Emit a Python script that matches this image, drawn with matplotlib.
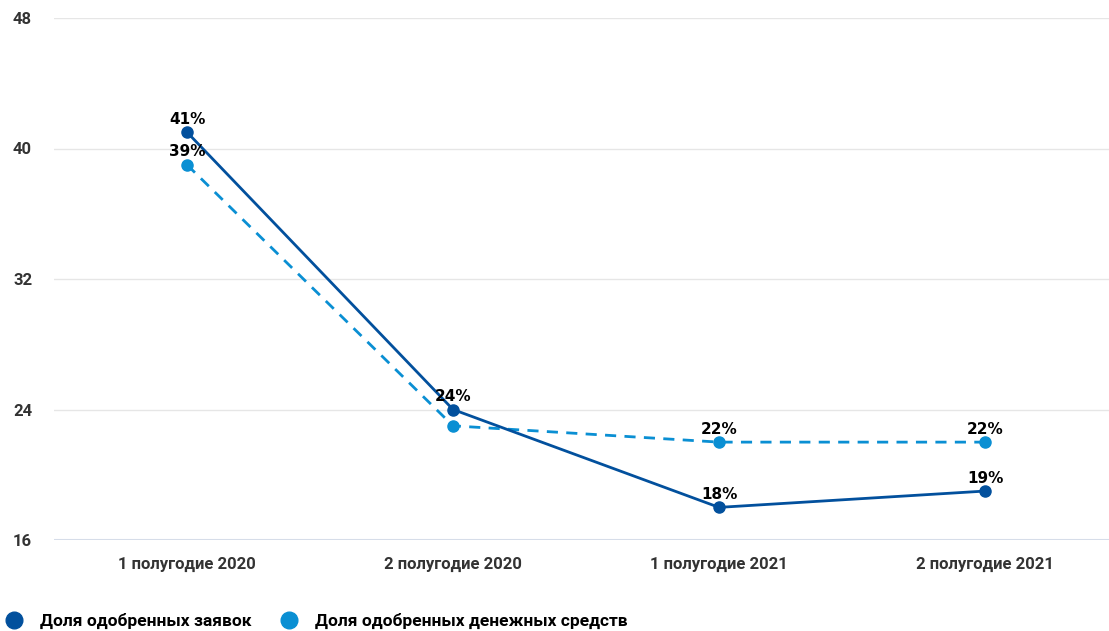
import numpy as np
import matplotlib.pyplot as plt
from matplotlib.lines import Line2D
from matplotlib.font_manager import FontProperties

# data
categories = ["1 полугодие 2020", "2 полугодие 2020", "1 полугодие 2021", "2 полугодие 2021"]
applications = [41, 24, 18, 19]   # Доля одобренных заявок
funds = [39, 23, 22, 22]          # Доля одобренных денежных средств
funds_shown = [True, False, True, True]  # the 23% label is hidden under 24% in the original
yticks = [16, 24, 32, 40, 48]

dark = "#02509d"
light = "#0a8fd3"

lbl_font = FontProperties(family="DejaVu Sans", weight="bold", size=11)

fig = plt.figure(figsize=(11.09, 6.31), dpi=100)
ax = fig.add_axes([54 / 1109, 1 - 540 / 631, 1 - 54 / 1109, 522 / 631])

x = np.arange(len(categories))
ax.plot(x, funds, color=light, lw=2, ls=(0, (4, 3)), marker="o", ms=8, zorder=3)
ax.plot(x, applications, color=dark, lw=2, marker="o", ms=8, zorder=4)

# value labels
for xi, v in zip(x, applications):
    ax.annotate(f"{v}%", (xi, v), xytext=(0, 4), textcoords="offset points",
                ha="center", va="bottom", fontproperties=lbl_font, color="black", zorder=5)
for xi, v, show in zip(x, funds, funds_shown):
    if show:
        ax.annotate(f"{v}%", (xi, v), xytext=(0, 4), textcoords="offset points",
                    ha="center", va="bottom", fontproperties=lbl_font, color="black", zorder=5)

ax.set_xlim(-0.5, 3.466)
ax.set_ylim(16, 48)
ax.set_yticks(yticks)
ax.set_xticks(x)
ax.set_xticklabels(categories)
for s in ax.spines.values():
    s.set_visible(False)
ax.grid(axis="y", color="#e6e6e6", lw=1)
ax.axhline(16, color="#d3dbea", lw=1.5, zorder=1)
ax.tick_params(length=0)
ax.tick_params(axis="y", pad=29.5)
ax.tick_params(axis="x", pad=12)
for lab in ax.get_yticklabels() + ax.get_xticklabels():
    lab.set_fontweight("bold")
    lab.set_fontsize(12)
    lab.set_color("#333333")
    lab.set_family("Roboto")
for lab in ax.get_yticklabels():
    lab.set_horizontalalignment("left")

handles = [
    Line2D([], [], ls="", marker="o", ms=12, color=dark, label="Доля одобренных заявок"),
    Line2D([], [], ls="", marker="o", ms=12, color=light, label="Доля одобренных денежных средств"),
]
fig.legend(handles=handles, loc="lower left", bbox_to_anchor=(-0.0175, -0.022), ncol=2,
           frameon=False, handletextpad=0.5, columnspacing=1.2,
           prop={"family": "Roboto", "weight": "bold", "size": 12.5})

fig.savefig("out.png", dpi=100)
